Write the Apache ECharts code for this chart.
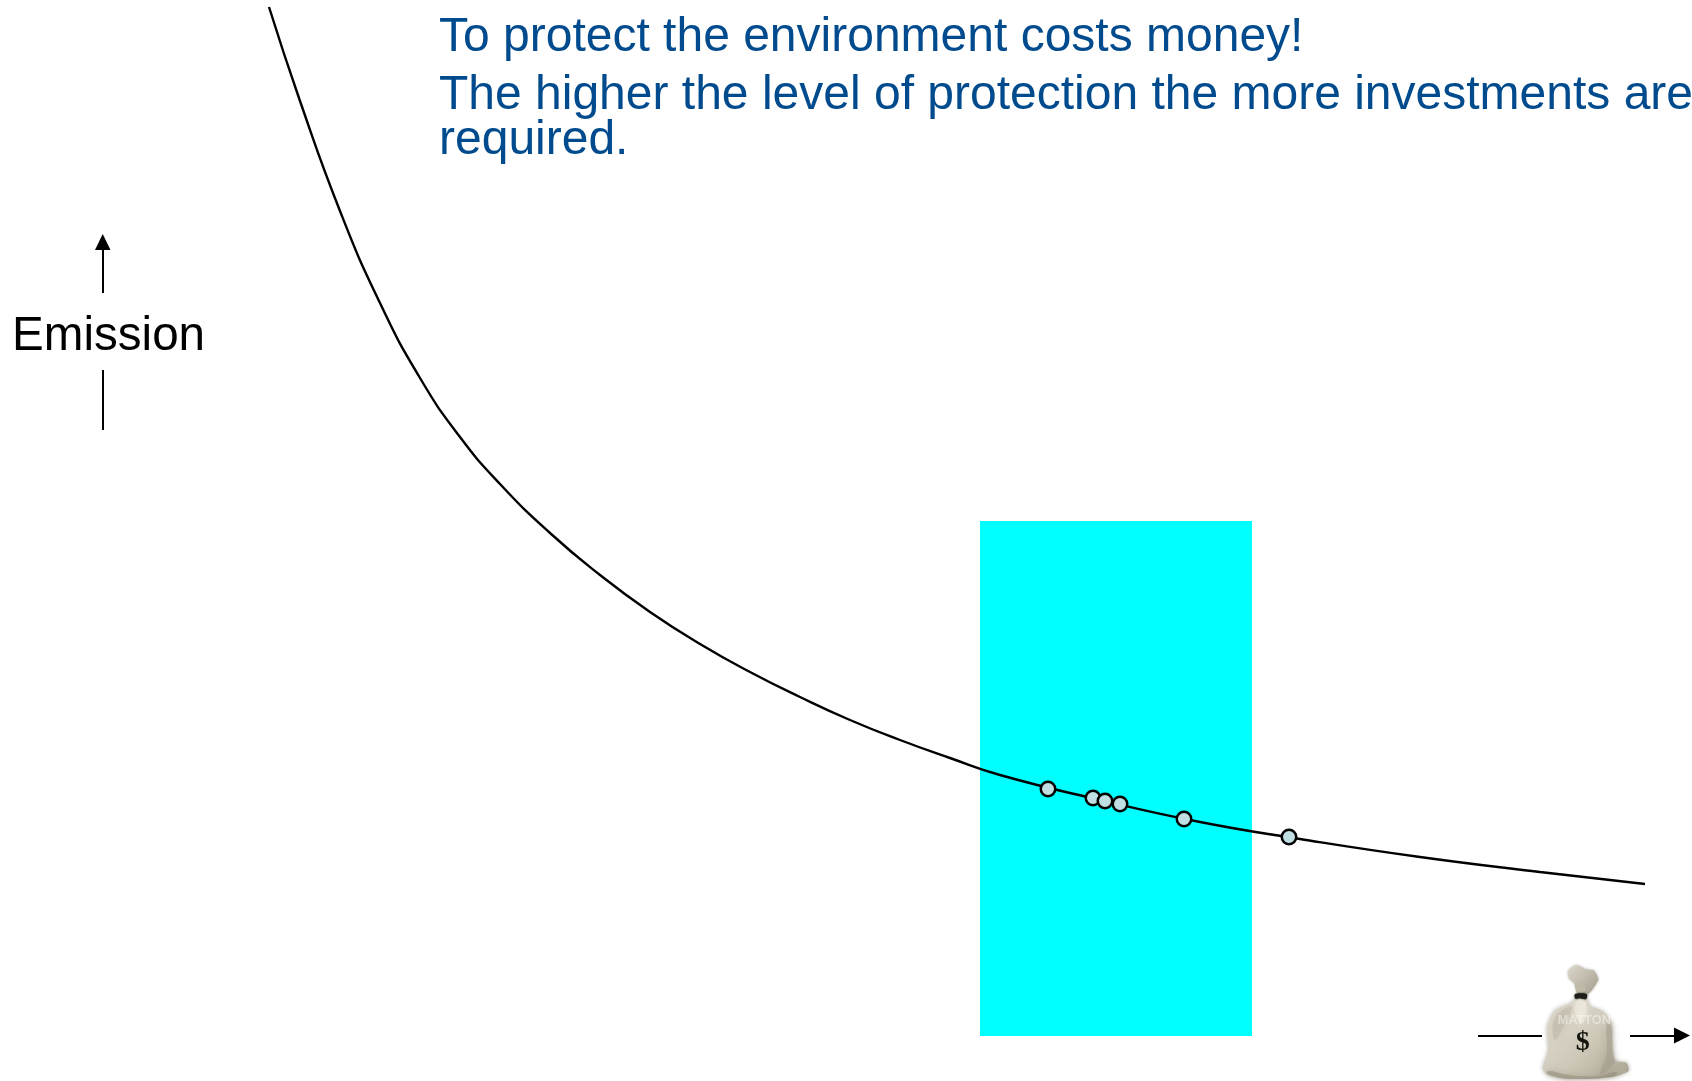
<!DOCTYPE html>
<html>
<head>
<meta charset="utf-8">
<title>Emission versus investment</title>
<style>html,body{margin:0;padding:0;background:#fff}#chart{width:1692px;height:1081px}</style>
<script src="https://cdn.jsdelivr.net/npm/echarts@6/dist/echarts.min.js"></script>
</head>
<body>
<div id="chart"></div>
<script>
// Abatement curve: investment on x, remaining emission on y (arbitrary units)
const curveInvestment = [269, 300, 340, 380, 420, 460, 500, 550, 600, 650, 700, 750, 800, 850, 900, 950, 1000, 1100, 1200, 1300, 1420, 1540, 1645];
const curveEmission = [1074, 980, 870, 778, 703, 644, 597, 548, 506, 469, 437, 409, 384, 361, 341, 323, 306, 281, 259, 242, 224, 209, 197];

// Individual plants sitting on the curve
const plantInvestment = [1048, 1093, 1105, 1120, 1184, 1289];
const plantEmission = [292, 283, 280, 277, 262, 244];

// Shaded band of typical investment
const bandInvestment = [980, 1252];
const bandEmission = [45, 560];

const titleLines = ['To protect the environment costs money!', 'The higher the level of protection the more investments are', 'required.'];
const yAxisLabel = 'Emission';

const toPairs = (xs, ys) => xs.map((x, i) => [x, ys[i]]);

const TEXT_FONT = '"Liberation Sans", Arial, sans-serif';
const titleTops = [14, 72, 117];

// Money bag icon, drawn in a 3x local space
const bagGraphic = {
  type: 'group', x: 1440, y: 940, scaleX: 1 / 3, scaleY: 1 / 3,
  children: [
    { type: 'polygon', z: 10, shape: { smooth: 0.2, points: [[405,176],[442,176],[448,197],[490,215],[515,250],[518,310],[526,362],[560,368],[566,392],[530,408],[470,416],[380,416],[322,404],[308,385],[325,330],[322,260],[345,212],[395,190]] },
      style: { fill: { type: 'linear', x: 0, y: 0, x2: 1, y2: 1, colorStops: [{ offset: 0, color: '#e4e0d3' }, { offset: 0.55, color: '#cdc8b8' }, { offset: 1, color: '#a9a391' }] }, shadowBlur: 4, shadowColor: 'rgba(120,115,100,0.6)' } },
    { type: 'polygon', z: 11, shape: { smooth: 0.4, points: [[412,180],[432,180],[440,215],[425,250],[405,220]] },
      style: { fill: '#ece8dc', opacity: 0.75, shadowBlur: 6, shadowColor: '#ece8dc' } },
    { type: 'polygon', z: 11, shape: { smooth: 0.4, points: [[350,225],[395,200],[375,250],[345,300],[338,260]] },
      style: { fill: '#bdb8a7', opacity: 0.55, shadowBlur: 8, shadowColor: '#bdb8a7' } },
    { type: 'polygon', z: 11, shape: { smooth: 0.4, points: [[500,250],[514,260],[516,340],[522,368],[500,392],[480,402],[500,340]] },
      style: { fill: '#a09a89', opacity: 0.5, shadowBlur: 10, shadowColor: '#a09a89' } },
    { type: 'polygon', z: 11, shape: { smooth: 0.4, points: [[325,392],[380,404],[470,408],[530,396],[520,410],[380,416],[322,402]] },
      style: { fill: '#928c79', opacity: 0.55, shadowBlur: 6, shadowColor: '#928c79' } },
    { type: 'polygon', z: 12, shape: { smooth: 0.2, points: [[384,95],[398,80],[412,76],[438,88],[462,92],[475,118],[456,150],[438,166],[412,160],[404,130],[388,116]] },
      style: { fill: { type: 'linear', x: 0, y: 0, x2: 1, y2: 1, colorStops: [{ offset: 0, color: '#dcd8ca' }, { offset: 1, color: '#a39d8c' }] }, shadowBlur: 3, shadowColor: 'rgba(120,115,100,0.6)' } },
    { type: 'polygon', z: 13, shape: { smooth: 0.3, points: [[405,130],[425,128],[436,150],[420,160],[410,156]] },
      style: { fill: '#bfbaa9', opacity: 0.9 } },
    { type: 'polygon', z: 13, shape: { smooth: 0.3, points: [[405,163],[425,160],[441,164],[438,177],[420,175],[406,176]] },
      style: { fill: '#1d1f18', shadowBlur: 2, shadowColor: '#1d1f18' } },
    { type: 'text', z: 14, x: 433, y: 243, style: { text: 'MATTON', font: 'bold 38px ' + TEXT_FONT, fill: 'rgba(255,255,255,0.45)', align: 'center', verticalAlign: 'middle' } },
    { type: 'text', z: 14, x: 428, y: 309, style: { text: '$', font: 'bold 84px "Liberation Serif", serif', fill: '#15140f', align: 'center', verticalAlign: 'middle' } }
  ]
};

const chart = echarts.init(document.getElementById('chart'), null, { renderer: 'canvas' });

// Shafts of the two axis indicators; each is split around its label
const arrowLines = {
  type: 'lines', coordinateSystem: 'cartesian2d', silent: true, z: 5,
  symbol: ['none', 'none'],
  lineStyle: { color: '#000', width: 2, opacity: 1 },
  data: [
    { coords: [[102.5, 788], [102.5, 831]] },
    { coords: [[102.5, 711], [102.5, 651]] },
    { coords: [[1478, 45.5], [1542, 45.5]] },
    { coords: [[1630, 45.5], [1676, 45.5]] }
  ]
};

chart.setOption({
  animation: false,
  backgroundColor: '#fff',
  grid: { left: 0, right: 0, top: 0, bottom: 0 },
  xAxis: { type: 'value', min: 0, max: 1692, show: false },
  yAxis: { type: 'value', min: 0, max: 1081, show: false },
  series: [
    {
      name: 'Emission curve', type: 'line', z: 3, silent: true,
      data: toPairs(curveInvestment, curveEmission),
      smooth: 0.5, symbol: 'none',
      lineStyle: { color: '#000', width: 2.4 },
      markArea: {
        silent: true, z: 1,
        itemStyle: { color: '#00ffff', opacity: 1 },
        data: [[{ xAxis: bandInvestment[0], yAxis: bandEmission[1] }, { xAxis: bandInvestment[1], yAxis: bandEmission[0] }]]
      }
    },
    {
      name: 'Plants', type: 'scatter', z: 4, silent: true,
      data: toPairs(plantInvestment, plantEmission),
      symbol: 'circle', symbolSize: 14.5,
      itemStyle: { color: '#bfdfe3', borderColor: '#000', borderWidth: 2.5, opacity: 1 }
    },
    arrowLines
  ],
  graphic: [
    ...titleLines.map((t, i) => ({
      type: 'text', x: 439, y: titleTops[i], z: 20,
      style: { text: t, font: '48px ' + TEXT_FONT, fill: '#004b8d', align: 'left', verticalAlign: 'top' }
    })),
    { type: 'text', x: 12, y: 313, z: 20, style: { text: yAxisLabel, font: '47.6px ' + TEXT_FONT, fill: '#000', align: 'left', verticalAlign: 'top' } },
    // Arrow heads at the shaft ends
    { type: 'polygon', z: 20, shape: { points: [[102.7, 234], [95, 250], [110.5, 250]] }, style: { fill: '#000' } },
    { type: 'polygon', z: 20, shape: { points: [[1690, 1035.5], [1674, 1027.5], [1674, 1043.5]] }, style: { fill: '#000' } },
    bagGraphic
  ]
});
</script>
</body>
</html>
